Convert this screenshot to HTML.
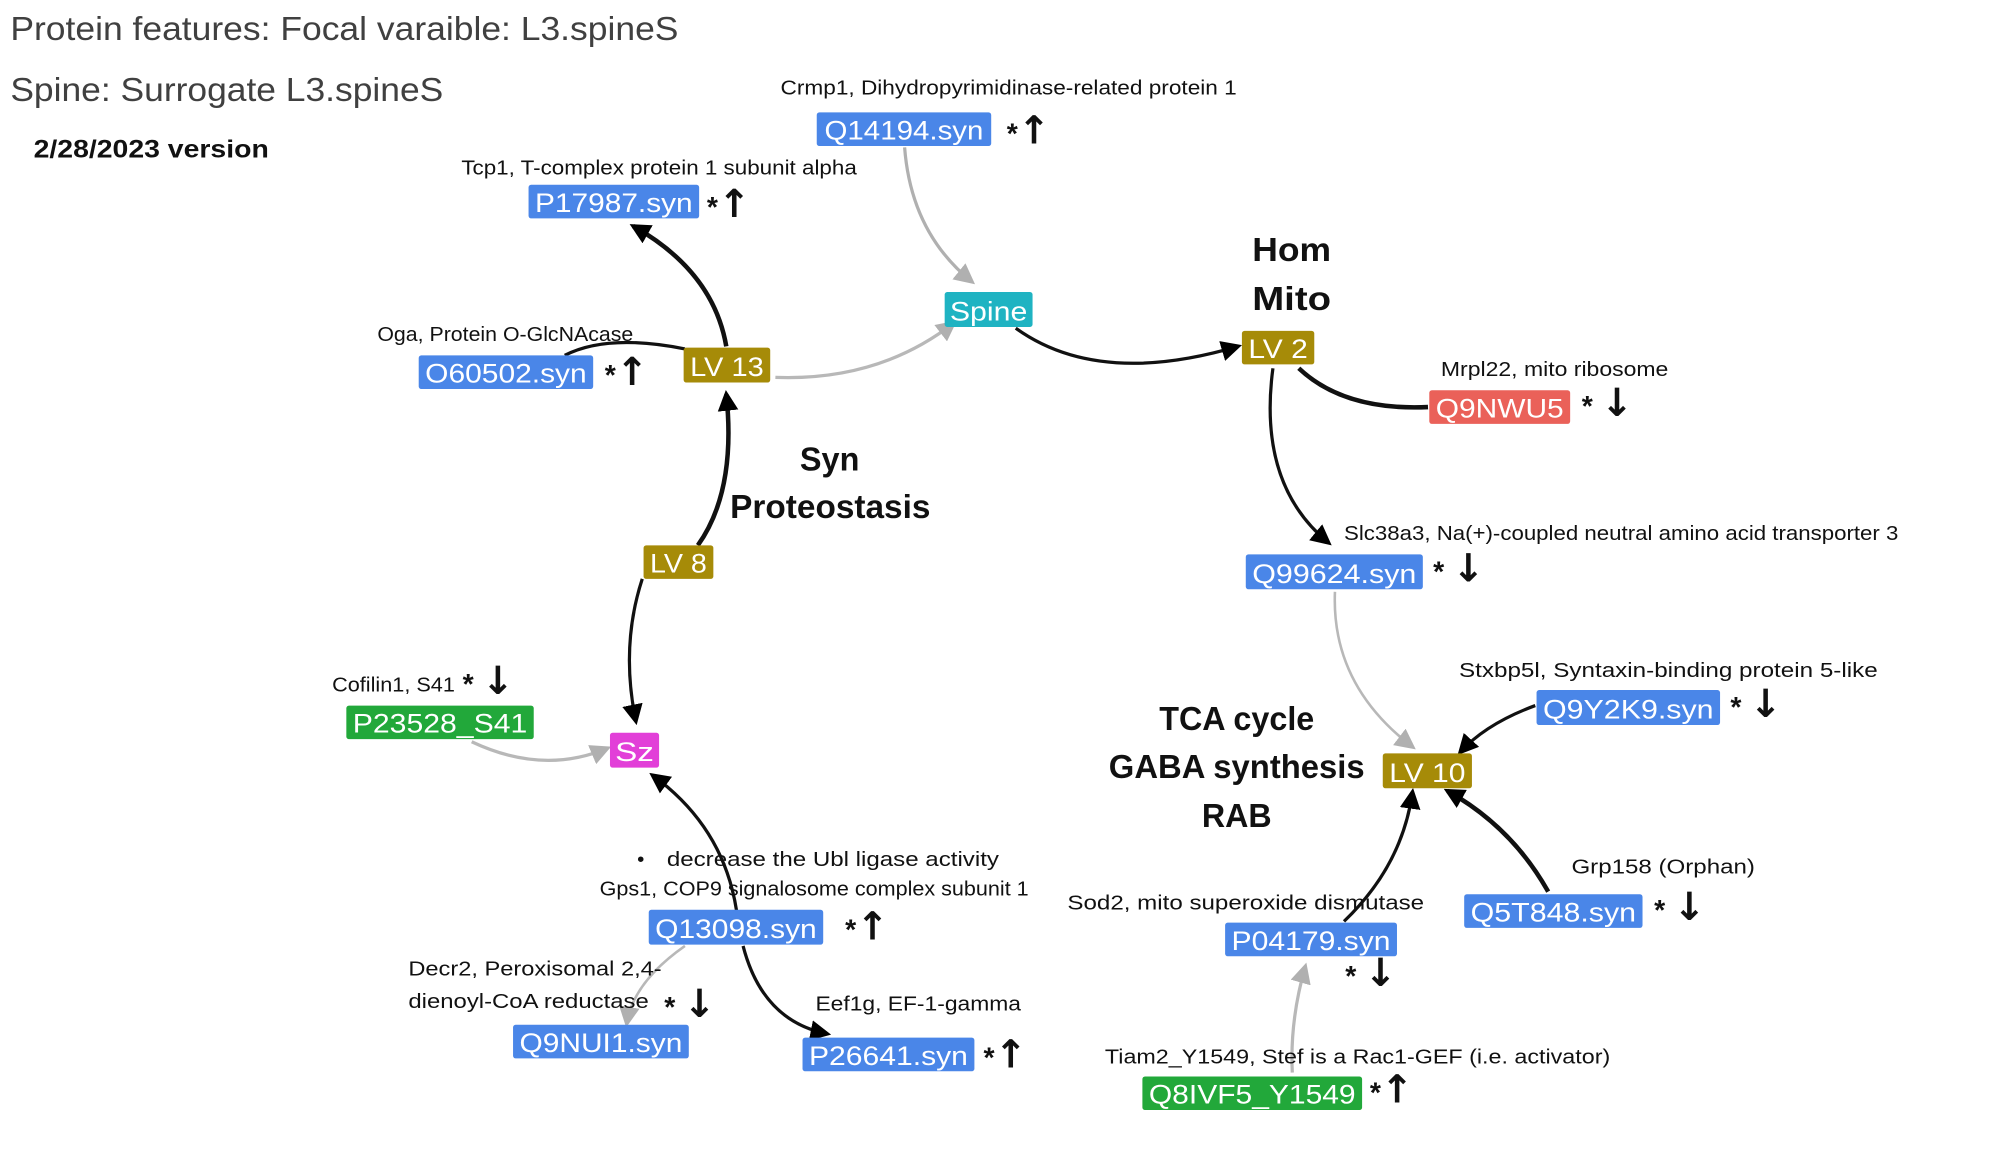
<!DOCTYPE html>
<html><head><meta charset="utf-8"><style>
html,body{margin:0;padding:0;background:#fff;}
svg{display:block;}
text{font-family:"Liberation Sans",sans-serif;}
.l{font-size:16px;fill:#111;}
.n{font-size:21px;fill:#fff;}
.b{font-size:26px;font-weight:bold;fill:#111;}
.s{font-size:22px;font-weight:bold;fill:#111;}
.s tspan{font-size:30px;font-family:"DejaVu Sans",sans-serif;font-weight:bold;}
</style></head><body>
<svg width="2016" height="1170" viewBox="0 0 1560 905.4" preserveAspectRatio="none" xmlns="http://www.w3.org/2000/svg">
<defs>
<marker id="ab" viewBox="0 0 10 10" refX="8" refY="5" markerWidth="16" markerHeight="16" markerUnits="userSpaceOnUse" orient="auto"><path d="M0,0 L10,5 L0,10 z" fill="#000"/></marker>
<marker id="ag" viewBox="0 0 10 10" refX="8" refY="5" markerWidth="16" markerHeight="16" markerUnits="userSpaceOnUse" orient="auto"><path d="M0,0 L10,5 L0,10 z" fill="#b0b0b0"/></marker>
</defs>
<rect width="1560" height="906" fill="#fff"/>
<text x="8" y="31" style="font-size:26px;fill:#404040" textLength="517" lengthAdjust="spacingAndGlyphs">Protein features: Focal varaible: L3.spineS</text>
<text x="8" y="78" style="font-size:26px;fill:#404040" textLength="335" lengthAdjust="spacingAndGlyphs">Spine: Surrogate L3.spineS</text>
<text x="26" y="122" style="font-size:19px;font-weight:bold;fill:#111" textLength="182" lengthAdjust="spacingAndGlyphs">2/28/2023 version</text>

<g fill="none">
<path d="M700 114 Q705 180 752 218" stroke="#b0b0b0" stroke-width="2.5" marker-end="url(#ag)"/>
<path d="M600 292 Q680 295 738 250" stroke="#b8b8b8" stroke-width="2.5" marker-end="url(#ag)"/>
<path d="M786 254 Q850 300 958 268" stroke="#111" stroke-width="2.5" marker-end="url(#ab)"/>
<path d="M1005 285 Q1040 318 1105 315" stroke="#111" stroke-width="3.5"/>
<path d="M985 285 Q973 375 1028 420" stroke="#111" stroke-width="2.5" marker-end="url(#ab)"/>
<path d="M1033 458 Q1030 530 1093 578" stroke="#b8b8b8" stroke-width="2" marker-end="url(#ag)"/>
<path d="M1188 546 Q1150 560 1130 582" stroke="#111" stroke-width="2.5" marker-end="url(#ab)"/>
<path d="M1040 713 Q1085 670 1093 613" stroke="#111" stroke-width="2.5" marker-end="url(#ab)"/>
<path d="M1198 690 Q1170 640 1120 612" stroke="#111" stroke-width="3.5" marker-end="url(#ab)"/>
<path d="M1000 830 Q998 790 1010 748" stroke="#b8b8b8" stroke-width="2.5" marker-end="url(#ag)"/>
<path d="M562 268 Q552 210 490 175" stroke="#111" stroke-width="3.5" marker-end="url(#ab)"/>
<path d="M437 275 Q470 258 530 270" stroke="#111" stroke-width="2.5"/>
<path d="M540 422 Q570 380 562 305" stroke="#111" stroke-width="3.5" marker-end="url(#ab)"/>
<path d="M497 448 Q480 500 492 558" stroke="#111" stroke-width="2.5" marker-end="url(#ab)"/>
<path d="M365 574 Q420 600 470 579" stroke="#b8b8b8" stroke-width="2.5" marker-end="url(#ag)"/>
<path d="M570 705 Q560 640 505 600" stroke="#111" stroke-width="2.5" marker-end="url(#ab)"/>
<path d="M530 732 Q490 760 485 792" stroke="#b8b8b8" stroke-width="2" marker-end="url(#ag)"/>
<path d="M575 732 Q590 790 640 800" stroke="#111" stroke-width="2.5" marker-end="url(#ab)"/>
</g>

<text class="l" x="604" y="73" textLength="353" lengthAdjust="spacingAndGlyphs">Crmp1, Dihydropyrimidinase-related protein 1</text>
<text class="l" x="357" y="135" textLength="306" lengthAdjust="spacingAndGlyphs">Tcp1, T-complex protein 1 subunit alpha</text>
<text class="l" x="292" y="264" textLength="198" lengthAdjust="spacingAndGlyphs">Oga, Protein O-GlcNAcase</text>
<text class="l" x="1115" y="291" textLength="176" lengthAdjust="spacingAndGlyphs">Mrpl22, mito ribosome</text>
<text class="l" x="1040" y="418" textLength="429" lengthAdjust="spacingAndGlyphs">Slc38a3, Na(+)-coupled neutral amino acid transporter 3</text>
<text class="l" x="257" y="535" textLength="95" lengthAdjust="spacingAndGlyphs">Cofilin1, S41</text>
<text class="l" x="1129" y="524" textLength="324" lengthAdjust="spacingAndGlyphs">Stxbp5l, Syntaxin-binding protein 5-like</text>
<text class="l" x="493" y="670">•</text>
<text class="l" x="516" y="670" textLength="257" lengthAdjust="spacingAndGlyphs">decrease the Ubl ligase activity</text>
<text class="l" x="464" y="693" textLength="332" lengthAdjust="spacingAndGlyphs">Gps1, COP9 signalosome complex subunit 1</text>
<text class="l" x="1216" y="676" textLength="142" lengthAdjust="spacingAndGlyphs">Grp158 (Orphan)</text>
<text class="l" x="826" y="704" textLength="276" lengthAdjust="spacingAndGlyphs">Sod2, mito superoxide dismutase</text>
<text class="l" x="316" y="755" textLength="196" lengthAdjust="spacingAndGlyphs">Decr2, Peroxisomal 2,4-</text>
<text class="l" x="316" y="780" textLength="186" lengthAdjust="spacingAndGlyphs">dienoyl-CoA reductase</text>
<text class="l" x="631" y="782" textLength="159" lengthAdjust="spacingAndGlyphs">Eef1g, EF-1-gamma</text>
<text class="l" x="855" y="823" textLength="391" lengthAdjust="spacingAndGlyphs">Tiam2_Y1549, Stef is a Rac1-GEF (i.e. activator)</text>

<text class="b" x="969" y="202" textLength="61" lengthAdjust="spacingAndGlyphs">Hom</text>
<text class="b" x="969" y="240" textLength="61" lengthAdjust="spacingAndGlyphs">Mito</text>
<text class="b" x="619" y="364" textLength="46" lengthAdjust="spacingAndGlyphs">Syn</text>
<text class="b" x="565" y="401" textLength="155" lengthAdjust="spacingAndGlyphs">Proteostasis</text>
<text class="b" x="897" y="565" textLength="120" lengthAdjust="spacingAndGlyphs">TCA cycle</text>
<text class="b" x="858" y="602" textLength="198" lengthAdjust="spacingAndGlyphs">GABA synthesis</text>
<text class="b" x="930" y="640" textLength="54" lengthAdjust="spacingAndGlyphs">RAB</text>

<g>
<rect x="632" y="87" width="135" height="26" rx="2" fill="#4a86e8"/><text class="n" x="638" y="108" textLength="123" lengthAdjust="spacingAndGlyphs">Q14194.syn</text>
<rect x="409" y="143" width="132" height="26" rx="2" fill="#4a86e8"/><text class="n" x="414" y="164" textLength="122" lengthAdjust="spacingAndGlyphs">P17987.syn</text>
<rect x="731" y="226" width="68" height="27" rx="2" fill="#1fb3c2"/><text class="n" x="735" y="248" textLength="60" lengthAdjust="spacingAndGlyphs">Spine</text>
<rect x="961" y="256" width="56" height="26" rx="2" fill="#a68b08"/><text class="n" x="966" y="277" textLength="46" lengthAdjust="spacingAndGlyphs">LV 2</text>
<rect x="1106" y="302" width="109" height="26" rx="2" fill="#ea6159"/><text class="n" x="1111" y="323" textLength="99" lengthAdjust="spacingAndGlyphs">Q9NWU5</text>
<rect x="324" y="275" width="135" height="26" rx="2" fill="#4a86e8"/><text class="n" x="329" y="296" textLength="125" lengthAdjust="spacingAndGlyphs">O60502.syn</text>
<rect x="529" y="269" width="67" height="27" rx="2" fill="#a68b08"/><text class="n" x="534" y="291" textLength="57" lengthAdjust="spacingAndGlyphs">LV 13</text>
<rect x="498" y="422" width="54" height="26" rx="2" fill="#a68b08"/><text class="n" x="503" y="443" textLength="44" lengthAdjust="spacingAndGlyphs">LV 8</text>
<rect x="964" y="429" width="137" height="27" rx="2" fill="#4a86e8"/><text class="n" x="969" y="451" textLength="127" lengthAdjust="spacingAndGlyphs">Q99624.syn</text>
<rect x="268" y="546" width="145" height="26" rx="2" fill="#22a83a"/><text class="n" x="273" y="567" textLength="135" lengthAdjust="spacingAndGlyphs">P23528_S41</text>
<rect x="472" y="567" width="38" height="27" rx="2" fill="#e23fd8"/><text class="n" x="476" y="589" textLength="30" lengthAdjust="spacingAndGlyphs">Sz</text>
<rect x="1189" y="534" width="142" height="27" rx="2" fill="#4a86e8"/><text class="n" x="1194" y="556" textLength="132" lengthAdjust="spacingAndGlyphs">Q9Y2K9.syn</text>
<rect x="1070" y="583" width="69" height="27" rx="2" fill="#a68b08"/><text class="n" x="1075" y="605" textLength="59" lengthAdjust="spacingAndGlyphs">LV 10</text>
<rect x="502" y="704" width="135" height="27" rx="2" fill="#4a86e8"/><text class="n" x="507" y="726" textLength="125" lengthAdjust="spacingAndGlyphs">Q13098.syn</text>
<rect x="1133" y="692" width="138" height="26" rx="2" fill="#4a86e8"/><text class="n" x="1138" y="713" textLength="128" lengthAdjust="spacingAndGlyphs">Q5T848.syn</text>
<rect x="948" y="714" width="133" height="26" rx="2" fill="#4a86e8"/><text class="n" x="953" y="735" textLength="123" lengthAdjust="spacingAndGlyphs">P04179.syn</text>
<rect x="397" y="793" width="136" height="26" rx="2" fill="#4a86e8"/><text class="n" x="402" y="814" textLength="126" lengthAdjust="spacingAndGlyphs">Q9NUI1.syn</text>
<rect x="621" y="803" width="133" height="26" rx="2" fill="#4a86e8"/><text class="n" x="626" y="824" textLength="123" lengthAdjust="spacingAndGlyphs">P26641.syn</text>
<rect x="884" y="833" width="170" height="26" rx="2" fill="#22a83a"/><text class="n" x="889" y="854" textLength="160" lengthAdjust="spacingAndGlyphs">Q8IVF5_Y1549</text>
</g>

<text class="s" x="779" y="111">*<tspan>↑</tspan></text>
<text class="s" x="547" y="168">*<tspan>↑</tspan></text>
<text class="s" x="468" y="298">*<tspan>↑</tspan></text>
<text class="s" x="1224" y="322">* <tspan>↓</tspan></text>
<text class="s" x="1109" y="450">* <tspan>↓</tspan></text>
<text class="s" x="358" y="537">* <tspan>↓</tspan></text>
<text class="s" x="1339" y="555">* <tspan>↓</tspan></text>
<text class="s" x="654" y="727">*<tspan>↑</tspan></text>
<text class="s" x="1280" y="712">* <tspan>↓</tspan></text>
<text class="s" x="1041" y="763">* <tspan>↓</tspan></text>
<text class="s" x="514" y="787">* <tspan>↓</tspan></text>
<text class="s" x="761" y="826">*<tspan>↑</tspan></text>
<text class="s" x="1060" y="853">*<tspan>↑</tspan></text>
</svg>
</body></html>
